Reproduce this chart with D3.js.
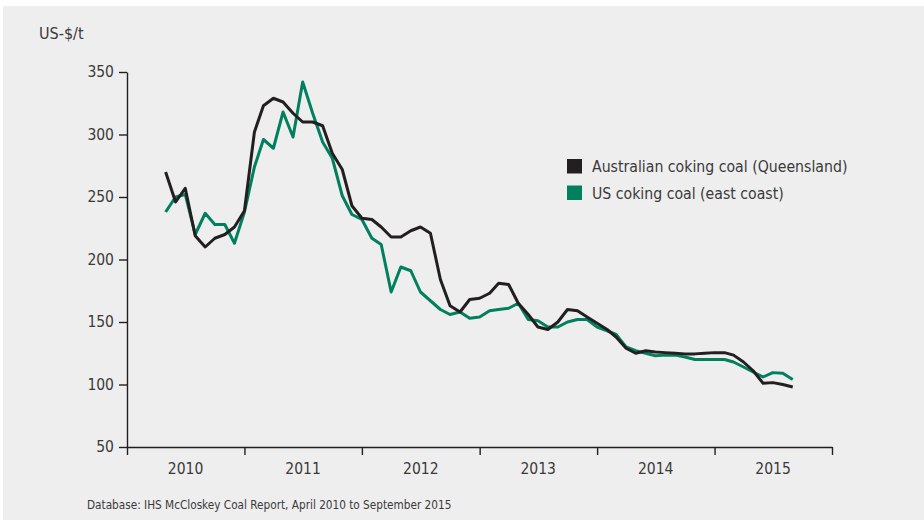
<!DOCTYPE html>
<html>
<head>
<meta charset="utf-8">
<script src="https://cdn.jsdelivr.net/npm/d3@7"></script>
<style>
  html, body { margin: 0; padding: 0; background: #ffffff; }
  svg { display: block; }
  text { font-family: "DejaVu Sans Condensed", "DejaVu Sans", sans-serif; font-stretch: condensed; fill: #3a3a3a; }
</style>
</head>
<body>
<svg id="chart" width="924" height="520"></svg>
<script>
// ---- data ----
const startMonth = [2010, 4];   // May 2010 (0-based month)
const australia = [270, 246, 257, 219, 210, 217, 220, 226, 239, 302, 323, 329, 326, 317, 310, 310, 307, 285, 272, 243,
  233, 232, 226, 218, 218, 223, 226, 221, 184, 163, 158, 168, 169, 173, 181, 180, 165, 156, 146, 144,
  150, 160, 159, 154, 149, 144, 138, 129, 125, 127, 126, 125.5, 125, 124.5, 124.5, 125, 125.5, 125.5, 123.5, 118,
  111, 101, 101.5, 100, 98];
const usEast = [238, 250, 252, 220, 237, 228, 228, 213, 238, 274, 296, 289, 318, 298, 342, 317, 294, 281, 251, 236,
  232, 217, 212, 174, 194, 191, 174, 167, 160, 156, 158, 153, 154, 159, 160, 161, 165, 152, 151, 146,
  146, 150, 152, 152, 146, 143, 140, 130, 127, 125, 123, 123.5, 123.5, 122, 120, 120, 120, 120, 118, 114,
  110, 106, 109.5, 109, 104];
const years = [2010, 2011, 2012, 2013, 2014, 2015];
const yTicks = [50, 100, 150, 200, 250, 300, 350];
const seriesNames = ["Australian coking coal (Queensland)", "US coking coal (east coast)"];
const seriesColors = ["#231f20", "#00805c"];
const unitLabel = "US-$/t";
const sourceNote = "Database: IHS McCloskey Coal Report, April 2010 to September 2015";

const months = australia.map((_, i) => new Date(Date.UTC(startMonth[0], startMonth[1] + i, 1)));

// ---- layout ----
const svg = d3.select("#chart");
svg.append("rect").attr("x", 3).attr("y", 6).attr("width", 921).attr("height", 514).attr("fill", "#eeeeee");

const x = d3.scaleUtc()
  .domain([new Date(Date.UTC(2010, 0, 1)), new Date(Date.UTC(2016, 0, 1))])
  .range([127, 832]);
const y = d3.scaleLinear().domain([50, 350]).range([447, 72]);

const axisColor = "#231f20";

// y axis
const yAxis = svg.append("g").attr("transform", "translate(127,0)")
  .call(d3.axisLeft(y).tickValues(yTicks).tickSize(8).tickPadding(5).tickSizeOuter(0));
yAxis.select(".domain").attr("stroke", axisColor).attr("stroke-width", 1.4);
yAxis.selectAll(".tick line").attr("stroke", axisColor).attr("stroke-width", 1.4);
yAxis.selectAll(".tick text").attr("font-size", 15.5).attr("fill", "#3a3a3a")
  .attr("font-family", "DejaVu Sans Condensed, DejaVu Sans, sans-serif");

// x axis
const yearStarts = d3.utcYear.range(new Date(Date.UTC(2010, 0, 1)), new Date(Date.UTC(2016, 0, 2)));
const xAxis = svg.append("g").attr("transform", "translate(0,447)")
  .call(d3.axisBottom(x).tickValues(yearStarts).tickSize(8).tickFormat("").tickSizeOuter(0));
xAxis.select(".domain").attr("stroke", axisColor).attr("stroke-width", 1.4);
xAxis.selectAll(".tick line").attr("stroke", axisColor).attr("stroke-width", 1.4);

svg.append("g").selectAll("text").data(years).join("text")
  .attr("x", d => x(new Date(Date.UTC(d, 6, 2))))
  .attr("y", 474)
  .attr("text-anchor", "middle")
  .attr("font-size", 15.5)
  .text(d => d);

// lines
const line = d3.line().x((d, i) => x(months[i])).y(d => y(d));
[usEast, australia].forEach((s, k) => {
  svg.append("path").datum(s)
    .attr("fill", "none")
    .attr("stroke", k === 0 ? seriesColors[1] : seriesColors[0])
    .attr("stroke-width", 3)
    .attr("stroke-linejoin", "round")
    .attr("d", line);
});

// unit label
svg.append("text").attr("x", 39).attr("y", 39).attr("font-size", 16).text(unitLabel);

// legend
const legend = svg.append("g");
seriesNames.forEach((n, i) => {
  legend.append("rect").attr("x", 567).attr("y", 159 + i * 26.5).attr("width", 15).attr("height", 14.5)
    .attr("fill", seriesColors[i]);
  legend.append("text").attr("x", 592).attr("y", 172 + i * 26.5).attr("font-size", 15.7).text(n);
});

// source
svg.append("text").attr("x", 87).attr("y", 509).attr("font-size", 11.7).text(sourceNote);
</script>
</body>
</html>
